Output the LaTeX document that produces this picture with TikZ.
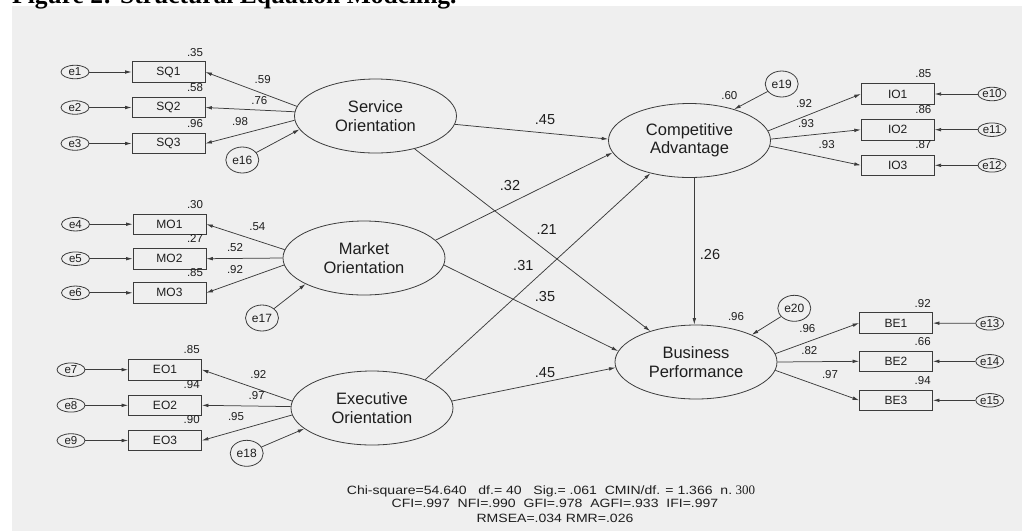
\documentclass[tikz,border=0pt]{standalone}
\usepackage{fontspec}
\usepackage{graphicx}
\setmainfont{Liberation Sans}
\newfontfamily\serifA{Liberation Serif}
\usetikzlibrary{shapes.geometric,arrows.meta}
\definecolor{bgc}{HTML}{EFEFEF}
\definecolor{lnc}{HTML}{3C3C3C}
\definecolor{txc}{HTML}{1E1E1E}
\tikzset{
 lat/.style={ellipse, draw=lnc, line width=0.8pt, fill=bgc, minimum width=162pt, minimum height=74pt, inner sep=0pt, align=center, text=txc, font=\fontsize{16.5}{18.3}\selectfont},
 obs/.style={rectangle, draw=lnc, line width=0.8pt, fill=bgc, minimum width=73pt, minimum height=20.5pt, inner sep=0pt, text=txc, font=\fontsize{12}{14}\selectfont},
 err/.style={ellipse, draw=lnc, line width=0.8pt, fill=bgc, minimum width=28pt, minimum height=13.5pt, inner sep=0pt, text=txc, font=\fontsize{11.5}{13}\selectfont},
 errl/.style={err, minimum width=33pt, minimum height=26pt, font=\fontsize{12}{14}\selectfont},
 cf/.style={inner sep=0pt, text=txc, font=\fontsize{11.5}{13}\selectfont},
 cfb/.style={inner sep=0pt, text=txc, font=\fontsize{14.5}{16}\selectfont},
 arr/.style={draw=lnc, line width=0.75pt, -{Latex[length=6.5pt,width=3.6pt]}},
 foot/.style={inner sep=0pt, text=txc, font=\fontsize{12}{14}\selectfont},
}
\begin{document}
\begin{tikzpicture}[x=1pt,y=-1pt]
\useasboundingbox (0,0) rectangle (1022,531);
\fill[bgc] (12,6) rectangle (1022,531);
\node[anchor=base west, inner sep=0pt, font=\serifA\bfseries\fontsize{25.5}{27}\selectfont] (title) at (12,3.5) {Figure 2: Structural Equation Modeling.};

% latent variables
\node[lat] (SO) at (375.5,116) {Service\\Orientation};
\node[lat] (MO) at (364,258) {Market\\Orientation};
\node[lat] (EO) at (372,408) {Executive\\Orientation};
\node[lat] (CA) at (689.5,140.5) {Competitive\\Advantage};
\node[lat] (BP) at (696,362) {Business\\Performance};

% observed: left
\node[obs] (SQ1) at (168.5,72) {SQ1};
\node[obs] (SQ2) at (168.5,107.5) {SQ2};
\node[obs] (SQ3) at (168.5,143.5) {SQ3};
\node[obs] (MO1) at (169.5,224.2) {MO1};
\node[obs] (MO2) at (169.5,258.7) {MO2};
\node[obs] (MO3) at (169.5,292.8) {MO3};
\node[obs] (EO1) at (165,369.7) {EO1};
\node[obs] (EO2) at (165,405.3) {EO2};
\node[obs] (EO3) at (165,440.5) {EO3};
% observed: right
\node[obs] (IO1) at (897.7,94) {IO1};
\node[obs] (IO2) at (897.7,129.7) {IO2};
\node[obs] (IO3) at (897.7,165.3) {IO3};
\node[obs] (BE1) at (896,323) {BE1};
\node[obs] (BE2) at (896,361.3) {BE2};
\node[obs] (BE3) at (896,400.3) {BE3};

% errors
\node[err] (e1) at (75,72) {e1};
\node[err] (e2) at (75,107.5) {e2};
\node[err] (e3) at (75,143.5) {e3};
\node[err] (e4) at (75.5,224.2) {e4};
\node[err] (e5) at (75.5,258.7) {e5};
\node[err] (e6) at (75.5,292.8) {e6};
\node[err] (e7) at (71,369.7) {e7};
\node[err] (e8) at (71,405.3) {e8};
\node[err] (e9) at (71,440.5) {e9};
\node[err] (e10) at (992,94) {e10};
\node[err] (e11) at (992,129.7) {e11};
\node[err] (e12) at (992,165.3) {e12};
\node[err] (e13) at (989.7,323.3) {e13};
\node[err] (e14) at (989.7,361.3) {e14};
\node[err] (e15) at (989.7,400.3) {e15};
\node[errl] (e16) at (242.3,160) {e16};
\node[errl] (e17) at (262,318) {e17};
\node[errl] (e18) at (246.7,453.3) {e18};
\node[errl] (e19) at (781.7,84) {e19};
\node[errl] (e20) at (794.3,308.3) {e20};

% error arrows to indicators
\foreach \e/\b in {e1/SQ1,e2/SQ2,e3/SQ3,e4/MO1,e5/MO2,e6/MO3,e7/EO1,e8/EO2,e9/EO3,e10/IO1,e11/IO2,e12/IO3,e13/BE1,e14/BE2,e15/BE3}
  \draw[arr] (\e) -- (\b);
% disturbances
\draw[arr] (e16) -- (SO.190);
\draw[arr] (e17) -- (MO.204);
\draw[arr] (e18) -- (EO.197.6);
\draw[arr] (e19) -- (CA.35.5);
\draw[arr] (e20) -- (BP.26.7);

% loadings
\draw[arr] (SO.173) -- (SQ1.east);
\draw[arr] (SO.177.6) -- (SQ2.east);
\draw[arr] (SO.183.3) -- (SQ3.east);
\draw[arr] (MO.174.7) -- (MO1.east);
\draw[arr] (MO.180) -- (MO2.east);
\draw[arr] (MO.185.8) -- (MO3.east);
\draw[arr] (EO.175) -- (EO1.east);
\draw[arr] (EO.179) -- (EO2.east);
\draw[arr] (EO.185) -- (EO3.east);
\draw[arr] (CA.7.2) -- (IO1.west);
\draw[arr] (CA.1.6) -- (IO2.west);
\draw[arr] (CA.356) -- (IO3.west);
\draw[arr] (BP.6) -- (BE1.west);
\draw[arr] (BP.0) -- (BE2.west);
\draw[arr] (BP.354) -- (BE3.west);

% structural paths
\draw[arr] (SO.354) -- (CA.179);
\draw[arr] (MO.14) -- (CA.189);
\draw[arr] (EO.28) -- (CA.220);
\draw[arr] (SO.320) -- (BP.146);
\draw[arr] (MO.355) -- (BP.172);
\draw[arr] (EO.5) -- (BP.184);
\draw[arr] ([xshift=4.8pt]CA.south) -- ([xshift=-1.7pt]BP.north);

% coefficient labels
\node[cf] (c1) at (195,52.3) {.35};
\node[cf] (c2) at (195,87.7) {.58};
\node[cf] (c3) at (195,124) {.96};
\node[cf] (c4) at (262.7,79.3) {.59};
\node[cf] (c5) at (259.3,101) {.76};
\node[cf] (c6) at (240,121.7) {.98};
\node[cf] (c7) at (195,204.3) {.30};
\node[cf] (c8) at (195,238.3) {.27};
\node[cf] (c9) at (195,272.7) {.85};
\node[cf] (c10) at (257.3,226.7) {.54};
\node[cf] (c11) at (235,247.7) {.52};
\node[cf] (c12) at (235,269.3) {.92};
\node[cf] (c13) at (191.7,350) {.85};
\node[cf] (c14) at (191.7,385) {.94};
\node[cf] (c15) at (191.7,420) {.90};
\node[cf] (c16) at (258.3,375) {.92};
\node[cf] (c17) at (256.7,396) {.97};
\node[cf] (c18) at (236,416.7) {.95};
\node[cf] (c19) at (729.3,96) {.60};
\node[cf] (c20) at (804,103.3) {.92};
\node[cf] (c21) at (806,123.3) {.93};
\node[cf] (c22) at (826.7,145) {.93};
\node[cf] (c23) at (923.3,73.3) {.85};
\node[cf] (c24) at (923.3,109.3) {.86};
\node[cf] (c25) at (923.3,145) {.87};
\node[cf] (c26) at (736,316.7) {.96};
\node[cf] (c27) at (807.3,328.3) {.96};
\node[cf] (c28) at (809.3,350.7) {.82};
\node[cf] (c29) at (830,375) {.97};
\node[cf] (c30) at (922.7,303.3) {.92};
\node[cf] (c31) at (922.7,341.7) {.66};
\node[cf] (c32) at (922.7,380.7) {.94};
\node[cfb] (s1) at (545,119.3) {.45};
\node[cfb] (s2) at (510,186) {.32};
\node[cfb] (s3) at (546.7,229.3) {.21};
\node[cfb] (s4) at (523.3,266) {.31};
\node[cfb] (s5) at (710,255) {.26};
\node[cfb] (s6) at (545,297) {.35};
\node[cfb] (s7) at (545,373) {.45};

% fit statistics
\node[foot, anchor=west] (f1) at (346.7,491) {\scalebox{1.17}[1]{Chi-square=54.640\ \ \ df.= 40\ \ \ Sig.= .061\ \ CMIN/df. = 1.366\ \ n.} {\serifA\fontsize{13}{14}\selectfont 300}};
\node[foot] (f2) at (555,503.5) {\scalebox{1.17}[1]{CFI=.997\ \ NFI=.990\ \ GFI=.978\ \ AGFI=.933\ \ IFI=.997}};
\node[foot] (f3) at (555,518) {\scalebox{1.17}[1]{RMSEA=.034 RMR=.026}};
\end{tikzpicture}
\end{document}
